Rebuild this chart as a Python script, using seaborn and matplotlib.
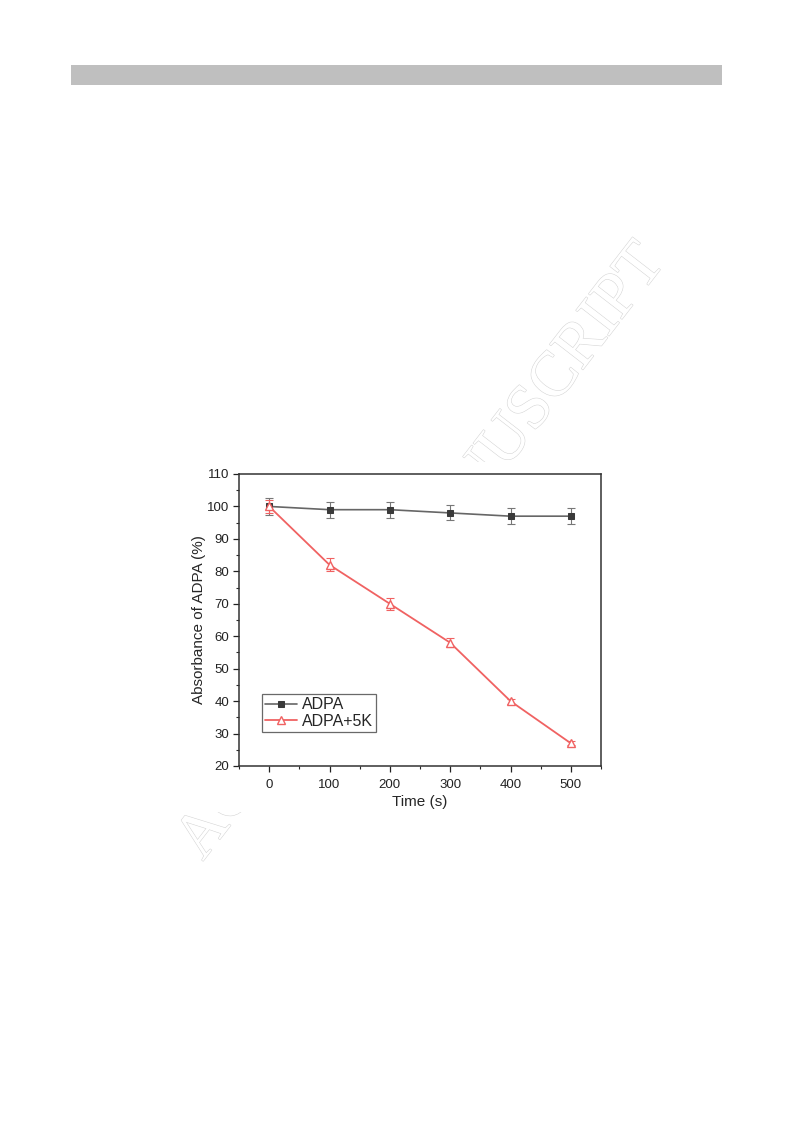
import matplotlib
matplotlib.use("Agg")
import matplotlib.pyplot as plt
import matplotlib.patheffects as pe
from matplotlib.patches import Rectangle
from matplotlib.ticker import MultipleLocator
import seaborn as sns
import pandas as pd

# data
time_s = [0, 100, 200, 300, 400, 500]
adpa = [100, 99, 99, 98, 97, 97]
adpa_err = [2.5, 2.5, 2.5, 2.3, 2.5, 2.5]
adpa_5k = [100, 82, 70, 58, 40, 27]
adpa_5k_err = [2.0, 2.0, 1.8, 1.3, 0.8, 0.6]
labels = ["ADPA", "ADPA+5K"]

sns.set_style("ticks")
plt.rcParams["font.family"] = ["Liberation Sans", "DejaVu Sans"]

fig = plt.figure(figsize=(7.93, 11.23), dpi=100)

# grey header bar at top of page
fig.add_artist(Rectangle((71 / 793, 1 - 85 / 1123), 651 / 793, 20 / 1123,
                         transform=fig.transFigure, color="#bfbfbf", lw=0))

# watermark, partly hidden behind the (white) figure image
fig.text(0.533, 0.508, "ACCEPTED MANUSCRIPT", rotation=52.3, ha="center", va="center",
         fontsize=46, family=["Liberation Serif", "DejaVu Serif"], color="white",
         path_effects=[pe.Stroke(linewidth=0.8, foreground="#d6d6d6"), pe.Normal()],
         zorder=0)
fig.add_artist(Rectangle((186 / 793, 1 - 812 / 1123), 426 / 793, 350 / 1123,
                         transform=fig.transFigure, color="white", lw=0, zorder=1))

ax = fig.add_axes([239 / 793, 1 - 766 / 1123, 362 / 793, 292 / 1123])
ax.set_zorder(2)

df = pd.DataFrame({
    "Time": time_s * 2,
    "Value": adpa + adpa_5k,
    "Sample": [labels[0]] * len(time_s) + [labels[1]] * len(time_s),
})

grey = "#666666"
red = "#f06262"
ax.errorbar(time_s, adpa, yerr=adpa_err, fmt="none", ecolor="#777777", elinewidth=0.8,
            capsize=3, capthick=0.8)
ax.errorbar(time_s, adpa_5k, yerr=adpa_5k_err, fmt="none", ecolor=red, elinewidth=0.8,
            capsize=3, capthick=0.8)
sns.lineplot(data=df[df.Sample == labels[0]], x="Time", y="Value", ax=ax, color=grey,
             lw=1.2, marker="s", markersize=4.8, markerfacecolor="#3a3a3a",
             markeredgecolor="#3a3a3a", label=labels[0])
sns.lineplot(data=df[df.Sample == labels[1]], x="Time", y="Value", ax=ax, color=red,
             lw=1.3, marker="^", markersize=6, markerfacecolor="white",
             markeredgecolor=red, markeredgewidth=1.0, label=labels[1])

ax.set_xlim(-50, 550)
ax.set_ylim(20, 110)
ax.xaxis.set_major_locator(MultipleLocator(100))
ax.xaxis.set_minor_locator(MultipleLocator(50))
ax.yaxis.set_major_locator(MultipleLocator(10))
ax.yaxis.set_minor_locator(MultipleLocator(5))
ax.tick_params(which="major", direction="out", length=4, width=0.9, labelsize=9.5,
               colors="#222222")
ax.tick_params(axis="x", which="major", pad=5)
ax.tick_params(axis="y", which="major", pad=3)
ax.tick_params(which="minor", direction="out", length=2.5, width=0.8)
for s in ax.spines.values():
    s.set_linewidth(1.1)
    s.set_color("#333333")

ax.set_xlabel("Time (s)", fontsize=11, labelpad=3)
ax.set_ylabel("Absorbance of ADPA (%)", fontsize=11, labelpad=1)

leg = ax.legend(loc="lower left", bbox_to_anchor=(0.064, 0.116), fontsize=11.5,
                frameon=True, fancybox=False, handlelength=2.0, handletextpad=0.3,
                borderpad=0.2, labelspacing=0.1, borderaxespad=0, markerscale=0.9)
leg.get_frame().set_edgecolor("#444444")
leg.get_frame().set_linewidth(0.9)

fig.savefig("out.png", dpi=100, facecolor="white")
